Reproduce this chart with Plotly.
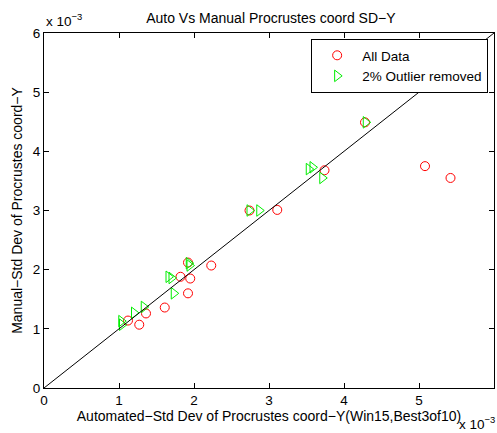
import plotly.graph_objects as go

# Values in units of 1e-3
all_x = [1.12, 1.27, 1.36, 1.61, 1.82, 1.95, 1.92, 1.92, 2.23, 2.74, 3.11, 4.28, 3.74, 5.08, 5.42]
all_y = [1.14, 1.07, 1.26, 1.36, 1.88, 1.85, 1.60, 2.12, 2.07, 3.00, 3.01, 4.49, 3.68, 3.75, 3.55]

out_x = [1.03, 1.04, 1.20, 1.33, 1.66, 1.70, 1.73, 1.93, 1.94, 2.74, 2.87, 4.29, 3.53, 3.58, 3.71]
out_y = [1.13, 1.07, 1.27, 1.37, 1.88, 1.86, 1.60, 2.11, 2.07, 3.00, 3.00, 4.49, 3.70, 3.73, 3.55]

line_x = [0, 6]
line_y = [0, 6]

tick_vals = [0, 1, 2, 3, 4, 5, 6]
tick_text = ["0", "1", "2", "3", "4", "5", "6"]

FONT = "Liberation Sans, Arial, sans-serif"
FS = 13.5
FT = 14

fig = go.Figure()
fig.add_trace(go.Scatter(x=all_x, y=all_y, mode="markers", name="All Data",
                         marker=dict(symbol="circle-open", size=9, color="#ff0000",
                                     line=dict(width=1, color="#ff0000"))))
fig.add_trace(go.Scatter(x=out_x, y=out_y, mode="markers", name="2% Outlier removed",
                         marker=dict(symbol="triangle-right-open", size=10, color="#00ee00",
                                     line=dict(width=1, color="#00ee00"))))
fig.add_trace(go.Scatter(x=line_x, y=line_y, mode="lines", showlegend=False,
                         line=dict(color="black", width=1)))

axis_common = dict(showgrid=False, zeroline=False, showline=True, linecolor="black",
                   linewidth=1, mirror="ticks", ticks="inside", ticklen=5,
                   tickcolor="black", tickfont=dict(family=FONT, size=FS, color="black"),
                   tickvals=tick_vals, ticktext=tick_text, range=[0, 6])

fig.update_layout(
    width=497, height=433,
    margin=dict(l=44, r=3, t=33, b=45),
    plot_bgcolor="white", paper_bgcolor="white",
    font=dict(family=FONT, size=FS, color="black"),
    title=dict(text="Auto Vs Manual Procrustes coord SD\u2212Y", x=0.545, xanchor="center",
               y=0.958, yanchor="middle", font=dict(size=FT, family=FONT)),
    xaxis=dict(**axis_common,
               title=dict(text="Automated\u2212Std Dev of Procrustes coord\u2212Y(Win15,Best3of10)",
                          font=dict(size=FT, family=FONT), standoff=3)),
    yaxis=dict(**axis_common,
               title=dict(text="Manual\u2212Std Dev of Procrustes coord\u2212Y",
                          font=dict(size=FT, family=FONT), standoff=6)),
    legend=dict(x=0.987, y=0.983, xanchor="right", yanchor="top",
                bgcolor="white", bordercolor="black", borderwidth=1,
                font=dict(size=FS, family=FONT), tracegroupgap=0,
                itemwidth=40),
    showlegend=True,
)

fig.add_annotation(text="x 10<sup>\u22123</sup>", xref="paper", yref="paper",
                   x=0.0, y=1.0, xanchor="left", yanchor="bottom", yshift=2,
                   showarrow=False, font=dict(size=FS, family=FONT))
fig.add_annotation(text="x 10<sup>\u22123</sup>", xref="paper", yref="paper",
                   x=1.0, y=0.0, xanchor="right", yanchor="top", yshift=-24, xshift=3,
                   showarrow=False, font=dict(size=FS, family=FONT))

fig.write_html("out.html")
